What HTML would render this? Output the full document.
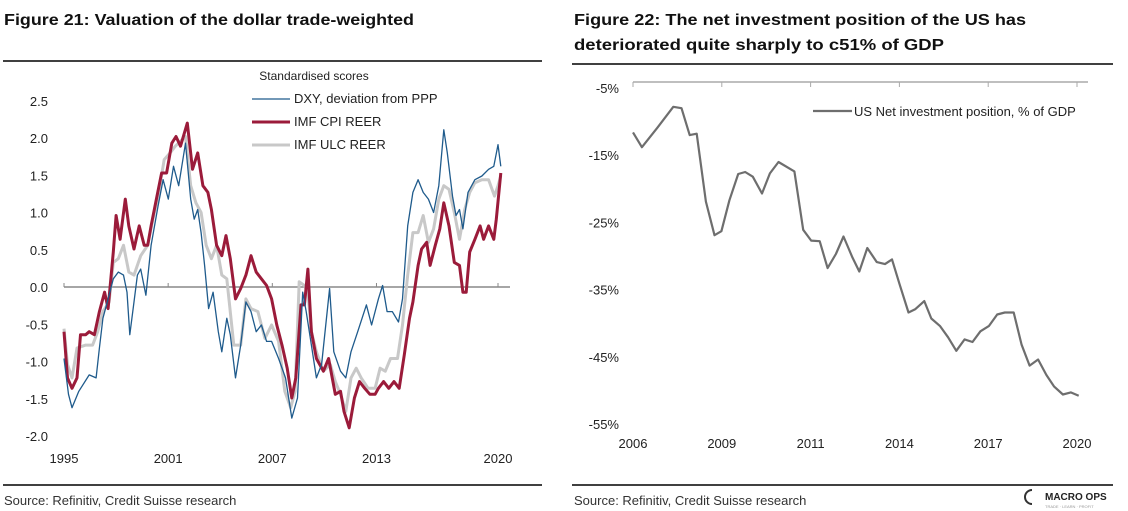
<!DOCTYPE html>
<html><head><meta charset="utf-8"><style>
html,body{margin:0;padding:0;background:#fff;}
svg{display:block;font-family:"Liberation Sans",sans-serif;}
</style></head><body>
<svg id="c" width="1128" height="511" viewBox="0 0 1128 511">
<text x="4" y="25" font-size="15.5" font-weight="bold" fill="#111" textLength="410" lengthAdjust="spacingAndGlyphs">Figure 21: Valuation of the dollar trade-weighted</text>
<text x="574" y="25" font-size="15.5" font-weight="bold" fill="#111" textLength="452" lengthAdjust="spacingAndGlyphs">Figure 22: The net investment position of the US has</text>
<text x="574" y="50" font-size="15.5" font-weight="bold" fill="#111" textLength="370" lengthAdjust="spacingAndGlyphs">deteriorated quite sharply to c51% of GDP</text>
<line x1="3" y1="61" x2="542" y2="61" stroke="#000" stroke-width="1.5"/>
<line x1="572" y1="64" x2="1113" y2="64" stroke="#000" stroke-width="1.5"/>
<line x1="3" y1="485" x2="542" y2="485" stroke="#000" stroke-width="1.5"/>
<line x1="572" y1="485" x2="1113" y2="485" stroke="#000" stroke-width="1.5"/>
<text x="4" y="505" font-size="13" fill="#333">Source: Refinitiv, Credit Suisse research</text>
<text x="574" y="505" font-size="13" fill="#333">Source: Refinitiv, Credit Suisse research</text>
<g>
<path d="M1032 490 A7 7 0 1 0 1032 504" fill="none" stroke="#333" stroke-width="2"/>
<text x="1045" y="500" font-size="10" font-weight="bold" fill="#222">MACRO OPS</text>
<text x="1045" y="508" font-size="4" fill="#999">TRADE · LEARN · PROFIT</text>
</g>
<text x="314" y="80" font-size="12" fill="#222" text-anchor="middle">Standardised scores</text>
<g id="left"></g>
<g id="right"></g>
</svg>
<script>
// ---- Figure 21 data ----
const dxyYears=[1995.00,1995.26,1995.46,1995.85,1996.45,1996.85,1997.04,1997.24,1997.54,1997.84,1998.13,1998.43,1998.63,1998.79,1999.03,1999.23,1999.42,1999.72,2000.02,2000.42,2000.71,2001.01,2001.31,2001.61,2002.00,2002.30,2002.50,2002.70,2002.90,2003.10,2003.33,2003.59,2003.89,2004.09,2004.38,2004.58,2004.88,2005.18,2005.48,2005.77,2006.07,2006.37,2006.67,2006.96,2007.36,2007.76,2008.12,2008.45,2008.75,2008.95,2009.25,2009.54,2009.84,2010.30,2010.54,2010.93,2011.23,2011.53,2011.92,2012.42,2012.72,2013.11,2013.35,2013.61,2013.91,2014.27,2014.50,2014.80,2015.10,2015.40,2015.69,2015.99,2016.29,2016.59,2016.88,2017.08,2017.38,2017.58,2017.78,2017.98,2018.27,2018.67,2019.07,2019.46,2019.76,2020.00,2020.16];
const dxyValues=[-0.96,-1.44,-1.62,-1.4,-1.18,-1.22,-0.82,-0.42,-0.16,0.11,0.2,0.16,-0.07,-0.64,-0.2,0.16,0.24,-0.11,0.56,1.09,1.44,1.18,1.62,1.36,1.93,1.18,0.91,1.04,0.73,0.29,-0.29,-0.07,-0.6,-0.87,-0.42,-0.64,-1.22,-0.78,-0.2,-0.33,-0.6,-0.51,-0.73,-0.73,-0.96,-1.22,-1.76,-1.49,-0.07,-0.33,-0.78,-1.22,-1.04,-0.02,-0.87,-1.13,-1.22,-0.87,-0.6,-0.24,-0.51,-0.16,0.02,-0.33,-0.33,-0.47,-0.16,0.82,1.27,1.44,1.27,1.18,1.0,1.36,2.11,1.8,1.22,0.96,1.04,0.78,1.27,1.44,1.49,1.58,1.62,1.91,1.62];
const cpiYears=[1995.00,1995.20,1995.46,1995.75,1995.95,1996.25,1996.45,1996.75,1997.04,1997.34,1997.54,1997.84,1998.00,1998.23,1998.53,1998.73,1999.03,1999.33,1999.62,1999.82,2000.02,2000.32,2000.62,2000.91,2001.21,2001.45,2001.71,2002.10,2002.40,2002.70,2003.00,2003.29,2003.49,2003.79,2004.09,2004.33,2004.58,2004.88,2005.18,2005.48,2005.77,2006.07,2006.37,2006.67,2006.96,2007.26,2007.56,2007.86,2008.12,2008.35,2008.65,2008.85,2009.05,2009.25,2009.54,2009.94,2010.24,2010.63,2010.93,2011.13,2011.43,2011.73,2012.02,2012.32,2012.62,2012.92,2013.11,2013.41,2013.71,2014.01,2014.31,2014.60,2014.90,2015.10,2015.40,2015.60,2015.89,2016.09,2016.39,2016.65,2016.88,2017.18,2017.48,2017.78,2017.98,2018.17,2018.37,2018.67,2018.97,2019.17,2019.46,2019.76,2019.90,2020.16];
const cpiValues=[-0.6,-1.22,-1.36,-1.22,-0.64,-0.64,-0.6,-0.64,-0.33,-0.07,-0.29,0.47,0.96,0.64,1.18,0.82,0.51,0.82,0.56,0.56,0.82,1.18,1.53,1.53,1.93,2.02,1.89,2.2,1.58,1.8,1.36,1.27,1.04,0.56,0.42,0.69,0.38,-0.16,-0.02,0.16,0.42,0.2,0.11,0.02,-0.16,-0.51,-0.78,-1.09,-1.49,-1.22,-0.24,-0.24,0.24,-0.6,-0.96,-1.13,-0.96,-1.44,-1.4,-1.67,-1.89,-1.49,-1.27,-1.36,-1.44,-1.44,-1.36,-1.27,-1.36,-1.27,-1.36,-0.91,-0.42,-0.2,0.29,0.51,0.6,0.29,0.56,0.78,1.13,0.82,0.33,0.29,-0.07,-0.07,0.47,0.64,0.82,0.64,0.82,0.64,0.91,1.53];
const ulcYears=[1995.00,1995.20,1995.46,1995.75,1996.25,1996.65,1996.94,1997.24,1997.60,1997.84,1998.13,1998.43,1998.73,1999.03,1999.42,1999.82,2000.12,2000.42,2000.77,2001.11,2001.41,2002.00,2002.30,2002.60,2002.90,2003.19,2003.49,2003.79,2004.09,2004.38,2004.78,2005.18,2005.48,2005.77,2006.17,2006.57,2006.96,2007.36,2007.72,2008.06,2008.31,2008.55,2008.85,2009.05,2009.25,2009.54,2009.94,2010.34,2010.63,2010.93,2011.23,2011.53,2011.83,2012.12,2012.52,2012.92,2013.21,2013.51,2013.81,2014.21,2014.50,2014.80,2015.10,2015.40,2015.69,2015.99,2016.29,2016.59,2016.88,2017.18,2017.48,2017.78,2018.08,2018.37,2018.67,2019.07,2019.46,2019.80,2020.00,2020.16];
const ulcValues=[-0.56,-1.04,-1.22,-0.82,-0.78,-0.78,-0.6,-0.33,-0.2,0.33,0.38,0.56,0.2,0.16,0.42,0.56,0.91,1.22,1.71,1.8,1.89,2.02,1.36,1.13,1.0,0.56,0.38,0.56,0.16,0.11,-0.78,-0.78,-0.16,-0.29,-0.33,-0.69,-0.51,-0.73,-1.4,-1.62,-1.4,0.07,0.02,-0.07,-0.6,-0.87,-1.13,-1.04,-1.27,-1.44,-1.67,-1.22,-1.09,-1.22,-1.36,-1.36,-1.09,-1.13,-0.96,-0.96,-0.51,0.16,0.73,0.73,0.96,0.6,0.78,1.18,1.36,1.31,1.0,0.64,1.04,1.27,1.4,1.44,1.44,1.22,1.36,1.49];
const leftYTicks=["2.5","2.0","1.5","1.0","0.5","0.0","-0.5","-1.0","-1.5","-2.0"];
const leftXTicks=["1995","2001","2007","2013","2020"];
// ---- Figure 22 data ----
const niipYears=[2006.00,2006.28,2006.77,2007.27,2007.53,2007.79,2008.01,2008.30,2008.57,2008.79,2009.04,2009.32,2009.54,2009.78,2010.07,2010.32,2010.59,2011.09,2011.37,2011.62,2011.89,2012.14,2012.40,2012.64,2012.92,2013.14,2013.39,2013.69,2013.95,2014.17,2014.41,2014.69,2014.91,2015.19,2015.41,2015.68,2015.94,2016.20,2016.46,2016.71,2016.96,2017.23,2017.49,2017.73,2018.01,2018.26,2018.51,2018.78,2019.04,2019.28,2019.56,2019.81,2020.06];
const niipValues=[-12.2,-14.4,-11.5,-8.4,-8.6,-12.6,-12.4,-22.5,-27.5,-26.9,-22.3,-18.4,-18.1,-18.8,-21.3,-18.3,-16.6,-18,-26.7,-28.3,-28.4,-32.4,-30.3,-27.7,-30.8,-32.9,-29.4,-31.5,-31.8,-31.1,-34.8,-39,-38.5,-37.3,-39.9,-41,-42.7,-44.7,-43,-43.4,-41.8,-41,-39.3,-39,-39,-43.8,-46.9,-46,-48.3,-50,-51.2,-50.9,-51.4];
const rightYTicks=["-5%","-15%","-25%","-35%","-45%","-55%"];
const rightXTicks=["2006","2009","2011","2014","2017","2020"];

const NS="http://www.w3.org/2000/svg";
function mk(parent,tag,attrs){const e=document.createElementNS(NS,tag);for(const k in attrs)e.setAttribute(k,attrs[k]);parent.appendChild(e);return e;}
// left axes
const xL=y=>64+(y-1995)*17.36;
const yL=v=>287-74.5*v;
const L=document.getElementById('left');
leftYTicks.forEach(t=>{const e=mk(L,'text',{x:48,y:yL(parseFloat(t))+5,'font-size':13,'text-anchor':'end',fill:'#222'});e.textContent=t;

});
const ax=mk(L,'line',{x1:64,y1:yL(0),x2:510,y2:yL(0),stroke:'#888','stroke-width':1.5});


leftXTicks.forEach(t=>{const yr=parseFloat(t);const x=xL(yr);
const tk=mk(L,'line',{x1:x,y1:yL(0),x2:x,y2:yL(0)-4,stroke:'#888'});


const e=mk(L,'text',{x:x,y:463,'font-size':13,'text-anchor':'middle',fill:'#222'});e.textContent=t;

});
function line(g,xs,ys,fx,fy,col,w,name){const d=xs.map((x,i)=>(i?'L':'M')+fx(x).toFixed(1)+' '+fy(ys[i]).toFixed(1)).join(' ');
const p=mk(g,'path',{d:d,fill:'none',stroke:col,'stroke-width':w,'stroke-linejoin':'round'});

}
line(L,ulcYears,ulcValues,xL,yL,'#c8c8c8',3,'series-imf-ulc-reer');
line(L,cpiYears,cpiValues,xL,yL,'#9b1b3a',3,'series-imf-cpi-reer');
line(L,dxyYears,dxyValues,xL,yL,'#1f5b8c',1.3,'series-dxy-deviation');
// legend
[['DXY, deviation from PPP','#1f5b8c',1.3,99],['IMF CPI REER','#9b1b3a',3,122],['IMF ULC REER','#c8c8c8',3,145]].forEach(l=>{
const s=mk(L,'line',{x1:252,y1:l[3],x2:290,y2:l[3],stroke:l[1],'stroke-width':l[2]});


const e=mk(L,'text',{x:294,y:l[3]+4,'font-size':13,fill:'#222'});e.textContent=l[0];

});
// right axes
const xR=y=>633+(y-2006)*31.7;
const yR=v=>84+(-5-v)*6.72;
const R=document.getElementById('right');
rightYTicks.forEach(t=>{const e=mk(R,'text',{x:619,y:yR(parseFloat(t))+9,'font-size':13,'text-anchor':'end',fill:'#222'});e.textContent=t;

});
const ax2=mk(R,'line',{x1:633,y1:82,x2:1088,y2:82,stroke:'#aaa','stroke-width':1.5});


rightXTicks.forEach((t,i)=>{const x=633+i*88.8;
const tk=mk(R,'line',{x1:x,y1:82,x2:x,y2:87,stroke:'#aaa'});


const e=mk(R,'text',{x:x,y:448,'font-size':13,'text-anchor':'middle',fill:'#222'});e.textContent=t;

});
line(R,niipYears,niipValues,xR,yR,'#6e6e6e',2.2,'series-us-niip');
const ls=mk(R,'line',{x1:813,y1:111,x2:852,y2:111,stroke:'#6e6e6e','stroke-width':2.2});


const lt=mk(R,'text',{x:854,y:116,'font-size':13,fill:'#222'});lt.textContent='US Net investment position, % of GDP';


</script>
</body></html>
